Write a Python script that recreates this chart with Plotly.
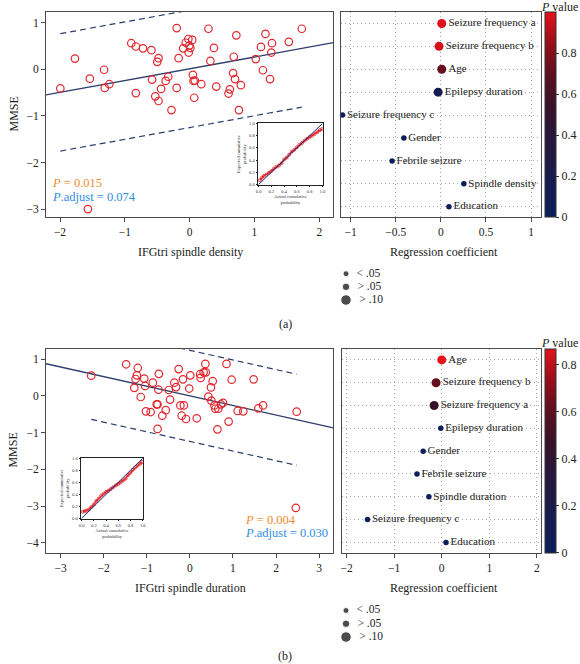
import plotly.graph_objects as go
import numpy as np

W, H = 580, 664
FONT = "Liberation Serif"

# ---------------- Panel (a) data ----------------
a_x = [-1.995, -1.77, -1.54, -1.32, -1.31, -1.24, -1.57, -0.90, -0.83, -0.72, -0.83, -0.59, -0.58,
       -0.48, -0.50, -0.53, -0.48, -0.44, -0.37, -0.33, -0.28, -0.20, -0.17, -0.20, -0.10, -0.06,
       -0.02, -0.005, 0.01, 0.04, -0.015, 0.05, 0.06, 0.08, 0.07, 0.18, 0.29, 0.32, 0.375, 0.41,
       0.60, 0.62, 0.67, 0.68, 0.70, 0.72, 0.76, 0.79, 1.02, 1.10, 1.17, 1.13, 1.27, 1.26, 1.24,
       1.53, 1.73]
a_y = [-0.41, 0.23, -0.20, -0.01, -0.40, -0.32, -3.0, 0.56, 0.49, 0.45, -0.51, 0.41, -0.22,
       0.24, 0.16, -0.58, -0.68, -0.42, -0.25, -0.16, -0.875, 0.885, 0.24, -0.40, 0.45, 0.57,
       0.65, 0.51, 0.46, 0.63, 0.36, -0.12, -0.25, -0.24, -0.61, -0.32, 0.87, 0.18, 0.46, -0.37,
       -0.52, -0.43, -0.08, 0.27, -0.21, 0.73, -0.875, -0.34, 0.22, 0.48, 0.76, -0.02, 0.56, 0.36,
       -0.21, 0.59, 0.87]
a_fit_slope, a_fit_intercept, a_fit_band = 0.253, 0.01, 1.26
a_p, a_padj = "0.015", "0.074"
a_xlabel = "IFGtri spindle density"

a_qq_actual = [0.02, 0.05, 0.08, 0.12, 0.16, 0.20, 0.24, 0.28, 0.32, 0.36, 0.40, 0.44, 0.48,
               0.52, 0.56, 0.60, 0.64, 0.68, 0.72, 0.76, 0.80, 0.84, 0.88, 0.92, 0.96, 0.99]
a_qq_expected = [0.07, 0.11, 0.14, 0.16, 0.19, 0.22, 0.26, 0.29, 0.31, 0.35, 0.41, 0.44, 0.49,
                 0.54, 0.57, 0.61, 0.65, 0.68, 0.72, 0.75, 0.78, 0.80, 0.83, 0.86, 0.89, 0.91]

a_vars = ["Seizure frequency a", "Seizure frequency b", "Age", "Epilepsy duration",
          "Seizure frequency c", "Gender", "Febrile seizure", "Spindle density", "Education"]
a_coef = [0.01, -0.02, 0.01, -0.03, -1.09, -0.41, -0.54, 0.255, 0.09]
a_pval = [0.99, 0.97, 0.72, 0.13, 0.01, 0.02, 0.03, 0.015, 0.02]

# ---------------- Panel (b) data ----------------
b_x = [-2.29, -1.48, -1.21, -1.23, -1.26, -1.29, -1.14, -1.06, -1.04, -1.02, -0.91, -0.86, -0.72,
       -0.73, -0.77, -0.75, -0.75, -0.64, -0.56, -0.49, -0.46, -0.36, -0.32, -0.26, -0.22, -0.19,
       -0.16, -0.14, -0.09, -0.015, 0.01, 0.16, 0.24, 0.25, 0.32, 0.36, 0.37, 0.43, 0.49, 0.53,
       0.50, 0.57, 0.59, 0.66, 0.64, 0.72, 0.77, 0.85, 0.90, 0.97, 1.11, 1.24, 1.48, 1.59, 1.70,
       2.48, 2.46]
b_y = [0.55, 0.86, 0.76, 0.56, 0.46, 0.22, -0.03, 0.47, 0.27, -0.42, -0.44, 0.36, 0.60,
       0.17, -0.23, -0.23, -0.90, -0.54, -0.39, 0.16, -0.10, 0.36, 0.24, 0.73, -0.26, -0.54,
       0.45, -0.26, -0.63, 0.20, 0.56, -0.61, 0.59, 0.49, 0.64, 0.87, 0.64, -0.02, 0.23, 0.40,
       -0.13, -0.26, -0.35, -0.35, -0.91, -0.23, -0.19, 0.87, -0.70, 0.44, -0.41, -0.42, 0.45,
       -0.34, -0.26, -0.43, -3.05]
b_fit_slope, b_fit_intercept, b_fit_band = -0.262, 0.0, 1.24
b_p, b_padj = "0.004", "0.030"
b_xlabel = "IFGtri spindle duration"

b_qq_actual = [0.02, 0.05, 0.08, 0.12, 0.16, 0.20, 0.24, 0.28, 0.32, 0.36, 0.40, 0.44, 0.48,
               0.52, 0.56, 0.60, 0.64, 0.68, 0.72, 0.76, 0.80, 0.84, 0.88, 0.92, 0.96, 0.99]
b_qq_expected = [0.11, 0.12, 0.13, 0.15, 0.19, 0.23, 0.29, 0.33, 0.38, 0.41, 0.44, 0.46, 0.49,
                 0.52, 0.55, 0.57, 0.60, 0.63, 0.66, 0.72, 0.76, 0.81, 0.85, 0.88, 0.91, 0.94]

b_vars = ["Age", "Seizure frequency b", "Seizure frequency a", "Epilepsy duration", "Gender",
          "Febrile seizure", "Spindle duration", "Seizure frequency c", "Education"]
b_coef = [0.0, -0.12, -0.16, -0.02, -0.39, -0.52, -0.27, -1.56, 0.09]
b_pval = [0.87, 0.62, 0.45, 0.03, 0.02, 0.02, 0.004, 0.01, 0.02]

size_labels = ["< .05", "> .05", "> .10"]
size_legend_px = [6, 7.5, 10.5]

COLORSCALE = [[0.0, "#0b1f5e"], [0.2, "#191c4c"], [0.4, "#28173a"], [0.55, "#3a1228"],
              [0.7, "#5e0f1f"], [0.85, "#9a0e19"], [1.0, "#e5111b"]]


def px_x(p):
    return p / W


def px_y(p):
    return 1 - p / H


def dot_size(p):
    return 5.5 if p < 0.05 else (7 if p < 0.10 else 9)


fig = go.Figure()

AX_COLOR = "#4a4a4a"
tickfont = dict(family=FONT, size=11.5, color="#222")


def main_axes(xr, yr, xdom, ydom, xdt, ydt):
    common = dict(showline=True, linecolor=AX_COLOR, linewidth=1, mirror=True, ticks="outside",
                  ticklen=4, tickcolor=AX_COLOR, showgrid=False, zeroline=False, tickfont=tickfont,
                  automargin=False)
    return (dict(domain=xdom, range=xr, dtick=xdt, tick0=0, **common),
            dict(domain=ydom, range=yr, dtick=ydt, tick0=0, **common))


def dot_axes(xr, xdom, ydom, xdt):
    xa = dict(domain=xdom, range=xr, dtick=xdt, tick0=0, showline=True, linecolor=AX_COLOR,
              linewidth=1, mirror=True, ticks="outside", ticklen=4, tickcolor=AX_COLOR,
              showgrid=True, gridcolor="#a8a8a8", griddash="1px,3px", gridwidth=1, zeroline=False,
              tickfont=tickfont, automargin=False)
    ya = dict(domain=ydom, range=[8.45, -0.5], type="category", showline=True, linecolor=AX_COLOR,
              linewidth=1, mirror=True, ticks="", showticklabels=False, showgrid=True,
              gridcolor="#a8a8a8", griddash="1px,3px", gridwidth=1, zeroline=False,
              automargin=False)
    return xa, ya


def inset_axes(xdom, ydom):
    f = dict(family=FONT, size=4.5, color="#333")
    common = dict(range=[-0.01, 1.01], dtick=0.2, tick0=0, tickformat=".1f", showline=True,
                  linecolor="#222", linewidth=0.8, mirror=True, ticks="outside", ticklen=1.5,
                  tickcolor="#222", showgrid=False, zeroline=False, tickfont=f, automargin=False)
    xa = dict(domain=xdom, title=dict(text="Actual cumulative<br>probability", font=f, standoff=2),
              **common)
    ya = dict(domain=ydom, title=dict(text="Expected cumulative<br>probability", font=f, standoff=2),
              **common)
    return xa, ya


layout_axes = {}

panels = [
    dict(x=a_x, y=a_y, slope=a_fit_slope, icpt=a_fit_intercept, band=a_fit_band,
         qa=a_qq_actual, qe=a_qq_expected, vars=a_vars, coef=a_coef, pval=a_pval,
         xr=[-2.216, 2.216], yr=[-3.17, 1.23], top=12, bot=217,
         inset=(258, 323, 123, 185), dotx=[-1.107, 1.107], dotdt=0.5, dotleft=341,
         cmax=1.0, p=a_p, padj=a_padj, ptext=(50, 183), xlabel=a_xlabel, tag="(a)",
         xtitle_y=252, leg_y=(273.7, 300), tag_y=324),
    dict(x=b_x, y=b_y, slope=b_fit_slope, icpt=b_fit_intercept, band=b_fit_band,
         qa=b_qq_actual, qe=b_qq_expected, vars=b_vars, coef=b_coef, pval=b_pval,
         xr=[-3.34, 3.33], yr=[-4.27, 1.29], top=348.5, bot=552.7,
         inset=(81, 143.3, 457.7, 519), dotx=[-2.09, 2.08], dotdt=1, dotleft=342.3,
         cmax=0.87, p=b_p, padj=b_padj, ptext=(243, 519.5), xlabel=b_xlabel, tag="(b)",
         xtitle_y=588, leg_y=(610.5, 637), tag_y=656),
]

annotations = []


def ann(text, x, y, size=12, color="#222", xanchor="center", yanchor="middle", **kw):
    return dict(text=text, x=px_x(x), y=px_y(y), xref="paper", yref="paper", showarrow=False,
                xanchor=xanchor, yanchor=yanchor, font=dict(family=FONT, size=size, color=color),
                **kw)


for i, P in enumerate(panels):
    n = i * 10
    sx, sy = f"x{n + 1}" if n else "x", f"y{n + 1}" if n else "y"
    dx, dy = f"x{n + 2}", f"y{n + 2}"
    ix, iy = f"x{n + 3}", f"y{n + 3}"
    lx, ly = f"x{n + 4}", f"y{n + 4}"
    ydom = [px_y(P["bot"]), px_y(P["top"])]

    # main scatter
    xa, ya = main_axes(P["xr"], P["yr"], [px_x(46), px_x(333.3)], ydom, 1, 1)
    xa["anchor"] = sy
    ya["anchor"] = sx
    layout_axes["xaxis" + (str(n + 1) if n else "")] = xa
    layout_axes["yaxis" + (str(n + 1) if n else "")] = ya

    xs = np.array(P["xr"])
    fig.add_trace(go.Scatter(x=xs, y=P["slope"] * xs + P["icpt"], mode="lines",
                             line=dict(color="#2b3d6d", width=1.3), xaxis=sx, yaxis=sy,
                             showlegend=False, hoverinfo="skip"))
    xb = np.array([min(P["x"]), max(P["x"])])
    for sgn in (1, -1):
        fig.add_trace(go.Scatter(x=xb, y=P["slope"] * xb + P["icpt"] + sgn * P["band"],
                                 mode="lines", line=dict(color="#2b3d6d", width=1.2, dash="6px,4px"),
                                 xaxis=sx, yaxis=sy, showlegend=False, hoverinfo="skip"))
    fig.add_trace(go.Scatter(x=P["x"], y=P["y"], mode="markers",
                             marker=dict(symbol="circle-open", size=7.5, color="#e1262c",
                                         line=dict(width=1.2, color="#e1262c")),
                             xaxis=sx, yaxis=sy, showlegend=False))

    # QQ inset
    l, r, t, b = P["inset"]
    xa, ya = inset_axes([px_x(l), px_x(r)], [px_y(b), px_y(t)])
    xa["anchor"] = iy
    ya["anchor"] = ix
    layout_axes[f"xaxis{n + 3}"] = xa
    layout_axes[f"yaxis{n + 3}"] = ya
    fig.add_trace(go.Scatter(x=P["qa"], y=P["qe"], mode="lines+markers",
                             line=dict(color="#e1262c", width=1.5),
                             marker=dict(symbol="circle-open", size=3, color="#e1262c",
                                         line=dict(width=0.8, color="#e1262c")),
                             xaxis=ix, yaxis=iy, showlegend=False))
    fig.add_trace(go.Scatter(x=[0, 1], y=[0, 1], mode="lines", line=dict(color="#1a2a7a", width=1),
                             xaxis=ix, yaxis=iy, showlegend=False, hoverinfo="skip"))

    # dot plot
    xa, ya = dot_axes(P["dotx"], [px_x(P["dotleft"]), px_x(540.7)], ydom, P["dotdt"])
    xa["anchor"] = dy
    ya["anchor"] = dx
    layout_axes[f"xaxis{n + 2}"] = xa
    layout_axes[f"yaxis{n + 2}"] = ya
    ca = "coloraxis" if i == 0 else "coloraxis2"
    fig.add_trace(go.Scatter(x=P["coef"], y=P["vars"], mode="markers+text", text=P["vars"],
                             textposition="middle right",
                             textfont=dict(family=FONT, size=11, color="#222"),
                             marker=dict(size=[dot_size(p) for p in P["pval"]], color=P["pval"],
                                         coloraxis=ca, line=dict(width=0), opacity=1),
                             cliponaxis=False, xaxis=dx, yaxis=dy, showlegend=False))

    # size legend
    ly0, ly1 = P["leg_y"]
    step = (ly1 - ly0) / 2
    layout_axes[f"xaxis{n + 4}"] = dict(domain=[px_x(340), px_x(400)], range=[0, 60], visible=False,
                                        anchor=ly)
    layout_axes[f"yaxis{n + 4}"] = dict(domain=[px_y(ly1 + step / 2), px_y(ly0 - step / 2)],
                                        range=[2.5, -0.5], visible=False, anchor=lx)
    fig.add_trace(go.Scatter(x=[6, 6, 6], y=[0, 1, 2], mode="markers+text",
                             text=["  " + s for s in size_labels], textposition="middle right",
                             textfont=dict(family=FONT, size=11.5, color="#222"),
                             marker=dict(size=size_legend_px, color="black"),
                             cliponaxis=False, xaxis=lx, yaxis=ly, showlegend=False))

    # colour axis
    fig.layout[ca] = dict(
        colorscale=COLORSCALE, cmin=0, cmax=P["cmax"],
        colorbar=dict(x=px_x(545), xanchor="left", xpad=0, ypad=0, y=px_y(P["top"]),
                      yanchor="top", len=(P["bot"] - P["top"]) / H, lenmode="fraction",
                      thickness=11, outlinewidth=1, outlinecolor="#333", ticks="outside",
                      ticklen=3, tickcolor="#333", tickvals=[0, 0.2, 0.4, 0.6, 0.8],
                      ticktext=["0", "0.2", "0.4", "0.6", "0.8"],
                      tickfont=dict(family=FONT, size=12, color="#222")))

    # texts
    annotations += [
        ann("<i>P</i> value", 580, max(P["top"] - 6, 6.5), xanchor="right"),
        ann("MMSE", 13, (P["top"] + P["bot"]) / 2, textangle=-90),
        ann(P["xlabel"], 190, P["xtitle_y"]),
        ann("Regression coefficient", 444, P["xtitle_y"]),
        ann("<i>P</i> = " + P["p"], P["ptext"][0], P["ptext"][1], size=12.5, color="#f08c2e",
            xanchor="left"),
        ann("<i>P</i>.adjust = " + P["padj"], P["ptext"][0], P["ptext"][1] + 13.5, size=12.5,
            color="#2f8ce2", xanchor="left"),
        ann(P["tag"], 285, P["tag_y"]),
    ]

fig.update_layout(
    width=W, height=H, autosize=False,
    margin=dict(l=0, r=0, t=0, b=0, pad=0, autoexpand=False),
    paper_bgcolor="white", plot_bgcolor="white",
    font=dict(family=FONT, color="#222"),
    annotations=annotations,
    **layout_axes,
)

# remove the browser's default 8px body margin so the figure sits at the window origin
fig.write_html("out.html", config={"displayModeBar": False},
               post_script="document.body.style.margin='0px';")
